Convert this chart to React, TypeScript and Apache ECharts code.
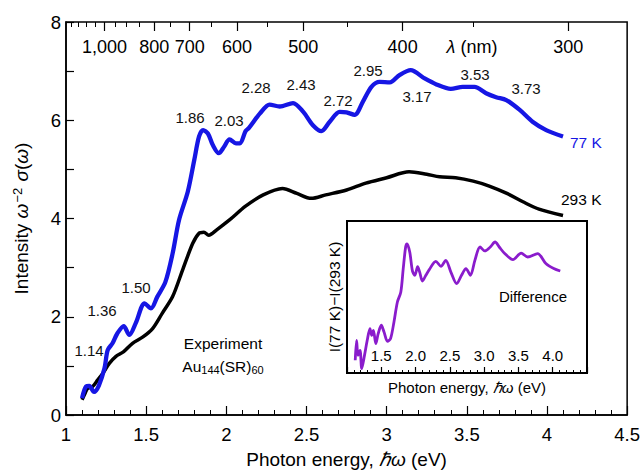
import React, { useEffect, useRef } from "react";
import * as echarts from "echarts";

// Absorption spectra of Au144(SR)60: photon energy (eV) vs. intensity
const energy77 = [
  1.1, 1.125, 1.145, 1.175, 1.205, 1.24, 1.26, 1.29, 1.32, 1.36, 1.395, 1.435,
  1.49, 1.53, 1.57, 1.62, 1.665, 1.705, 1.76, 1.8, 1.83, 1.855, 1.885, 1.915,
  1.953, 1.986, 2.02, 2.06, 2.085, 2.12, 2.14, 2.21, 2.27, 2.333, 2.416, 2.48,
  2.54, 2.593, 2.645, 2.707, 2.75, 2.8, 2.852, 2.905, 2.956, 3.02, 3.08, 3.15,
  3.237, 3.31, 3.4, 3.475, 3.548, 3.62, 3.683, 3.746, 3.83, 3.91, 3.995, 4.1,
];
const intensity77 = [
  0.34, 0.58, 0.59, 0.47, 0.6, 0.95, 1.32, 1.46, 1.66, 1.81, 1.63, 1.87,
  2.27, 2.17, 2.41, 2.71, 3.29, 3.97, 4.55, 5.19, 5.67, 5.8, 5.73, 5.5,
  5.33, 5.46, 5.61, 5.53, 5.53, 5.78, 5.84, 6.14, 6.32, 6.28, 6.35, 6.17,
  5.9, 5.78, 5.97, 6.17, 6.16, 6.11, 6.38, 6.68, 6.78, 6.77, 6.92, 7.02,
  6.85, 6.73, 6.64, 6.68, 6.68, 6.55, 6.47, 6.41, 6.21, 5.97, 5.8, 5.67,
];

const energy293 = [
  1.1, 1.12, 1.135, 1.166, 1.197, 1.23, 1.27, 1.31, 1.36, 1.415, 1.48, 1.54,
  1.6, 1.665, 1.727, 1.79, 1.83, 1.86, 1.89, 1.94, 2.02, 2.12, 2.23, 2.35,
  2.44, 2.53, 2.62, 2.75, 2.87, 3.0, 3.14, 3.25, 3.33, 3.43, 3.54, 3.64,
  3.75, 3.85, 3.95, 4.1,
];
const intensity293 = [
  0.31, 0.45, 0.54, 0.58, 0.71, 0.85, 1.05, 1.19, 1.29, 1.46, 1.59, 1.76,
  2.07, 2.41, 2.95, 3.49, 3.7, 3.72, 3.66, 3.77, 3.97, 4.25, 4.48, 4.61,
  4.51, 4.41, 4.48, 4.58, 4.72, 4.83, 4.95, 4.9, 4.85, 4.83, 4.76, 4.66,
  4.51, 4.34, 4.19, 4.06,
];

// Difference spectrum I(77 K) - I(293 K), arbitrary units
const energyDiff = [
  1.12, 1.14, 1.16, 1.19, 1.215, 1.255, 1.295, 1.335, 1.36, 1.385, 1.42, 1.455,
  1.5, 1.54, 1.59, 1.635, 1.685, 1.735, 1.785, 1.82, 1.855, 1.875, 1.915, 1.955,
  1.99, 2.03, 2.06, 2.1, 2.15, 2.2, 2.295, 2.37, 2.44, 2.515, 2.6, 2.67,
  2.735, 2.8, 2.865, 2.94, 3.01, 3.09, 3.16, 3.22, 3.3, 3.42, 3.54, 3.635,
  3.78, 3.9, 4.015, 4.11,
];
const difference = [
  0.84, 2.15, 1.16, 1.49, 0.29, 1.16, 2.15, 2.92, 2.48, 2.81, 1.93, 2.59,
  3.14, 2.7, 2.09, 2.26, 3.36, 4.67, 5.33, 6.87, 8.29, 8.5, 7.96, 6.7,
  6.43, 7.0, 6.64, 6.05, 6.43, 6.8, 7.35, 7.02, 7.41, 6.64, 5.88, 6.43,
  6.87, 6.43, 7.41, 8.29, 8.03, 8.29, 8.62, 8.29, 7.86, 7.46, 7.89, 7.63,
  7.86, 7.2, 6.87, 6.71,
];

// Wavelength scale (nm) shown along the top edge
const wavelengthLabelsNm = [1000, 800, 700, 600, 500, 400, 300];
const wavelengthMinorNm = [1200, 1150, 1100, 1050, 950, 900, 850, 750, 650, 550, 450, 350];

// Peak energies (eV) marked on the 77 K spectrum
const peakLabels = ["1.14", "1.36", "1.50", "1.86", "2.03", "2.28", "2.43", "2.72", "2.95", "3.17", "3.53", "3.73"];
const insetTickLabels = [1.5, 2.0, 2.5, 3.0, 3.5, 4.0];

const HC_EV_NM = 1239.84;
const FONT = "'Liberation Sans', Arial, Helvetica, sans-serif";
const BLUE = "#1616e4";
const PURPLE = "#8a1ccc";

// pixel anchors of the peak labels
const peakLabelPos: [number, number][] = [
  [89, 350], [102, 310], [136, 287], [190, 117], [229, 120], [256, 87],
  [301, 84], [338, 100], [368, 70], [417, 96], [475, 74], [526, 88],
];

const zip = (xs: number[], ys: number[]) => xs.map((x, i) => [x, ys[i]]);
const toEnergy = (nm: number) => HC_EV_NM / nm;

export default function App() {
  const ref = useRef<HTMLDivElement>(null);

  useEffect(() => {
    if (!ref.current) return;
    const chart = echarts.init(ref.current, undefined, { renderer: "svg" });

    const axisLine = { show: true, lineStyle: { color: "#000", width: 1.5 } };

    const peakTexts = peakLabels.map((t, i) => ({
      type: "text",
      x: peakLabelPos[i][0],
      y: peakLabelPos[i][1],
      style: {
        text: t,
        fill: "#111",
        font: `15px ${FONT}`,
        align: "center",
        verticalAlign: "middle",
      },
      z: 10,
    }));

    chart.setOption({
      animation: false,
      backgroundColor: "#fff",
      textStyle: { fontFamily: FONT, color: "#000" },
      grid: [
        {
          left: 66,
          top: 22,
          right: 15,
          bottom: 59,
          show: true,
          borderColor: "#000",
          borderWidth: 1.5,
          backgroundColor: "transparent",
        },
        {
          left: 347,
          top: 221,
          width: 240,
          height: 152,
          show: true,
          borderColor: "#000",
          borderWidth: 2,
          backgroundColor: "#fff",
          z: 3,
        },
      ],
      xAxis: [
        {
          type: "value",
          gridIndex: 0,
          position: "bottom",
          min: 1,
          max: 4.5,
          interval: 0.5,
          axisLine,
          axisTick: { show: true, inside: true, length: 9, lineStyle: { color: "#000", width: 1.2 } },
          minorTick: { show: true, splitNumber: 5, length: 5, lineStyle: { color: "#000", width: 1 } },
          splitLine: { show: false },
          axisLabel: { color: "#000", fontSize: 18.5, margin: 10, fontFamily: FONT },
          name: "Photon energy, {i|ℏω} (eV)",
          nameLocation: "middle",
          nameGap: 35,
          nameTextStyle: {
            fontSize: 19,
            color: "#000",
            fontFamily: FONT,
            rich: { i: { fontSize: 19, fontStyle: "italic", fontFamily: FONT } },
          },
        },
        {
          type: "value",
          gridIndex: 0,
          position: "top",
          min: 1,
          max: 4.5,
          axisLine: { show: false },
          axisTick: {
            show: true,
            inside: true,
            length: 9,
            customValues: wavelengthLabelsNm.map(toEnergy),
            lineStyle: { color: "#000", width: 1.2 },
          },
          splitLine: { show: false },
          axisLabel: {
            show: true,
            inside: true,
            margin: 16,
            color: "#000",
            fontSize: 18,
            fontFamily: FONT,
            customValues: wavelengthLabelsNm.map(toEnergy),
            formatter: (v: number) => Math.round(HC_EV_NM / v).toLocaleString("en-US"),
          },
        },
        {
          type: "value",
          gridIndex: 0,
          position: "top",
          min: 1,
          max: 4.5,
          axisLine: { show: false },
          axisTick: {
            show: true,
            inside: true,
            length: 5,
            customValues: wavelengthMinorNm.map(toEnergy),
            lineStyle: { color: "#000", width: 1 },
          },
          splitLine: { show: false },
          axisLabel: { show: false },
        },
        {
          type: "value",
          gridIndex: 1,
          position: "bottom",
          min: 1,
          max: 4.5,
          interval: 0.5,
          z: 8,
          axisLine: { show: true, lineStyle: { color: "#000", width: 2 } },
          axisTick: { show: true, inside: true, length: 6, lineStyle: { color: "#000", width: 1.2 } },
          minorTick: { show: true, splitNumber: 5, length: 3, lineStyle: { color: "#000", width: 1 } },
          splitLine: { show: false },
          axisLabel: {
            show: true,
            inside: true,
            margin: 10,
            color: "#000",
            fontSize: 15,
            fontFamily: FONT,
            customValues: insetTickLabels,
            formatter: (v: number) => v.toFixed(1),
          },
          name: "Photon energy, {i|ℏω} (eV)",
          nameLocation: "middle",
          nameGap: 7,
          nameTextStyle: {
            fontSize: 15,
            color: "#000",
            fontFamily: FONT,
            rich: { i: { fontSize: 15, fontStyle: "italic", fontFamily: FONT } },
          },
        },
      ],
      yAxis: [
        {
          type: "value",
          gridIndex: 0,
          min: 0,
          max: 8,
          interval: 2,
          axisLine,
          axisTick: { show: true, inside: true, length: 8, lineStyle: { color: "#000", width: 1.2 } },
          minorTick: { show: true, splitNumber: 2, length: 8, lineStyle: { color: "#000", width: 1.2 } },
          splitLine: { show: false },
          axisLabel: { color: "#000", fontSize: 18.5, margin: 5, fontFamily: FONT },
          name: "{n|Intensity }{i|ω}{sup|−2}{n| }{i|σ}{n|(}{i|ω}{n|)}",
          nameLocation: "middle",
          nameGap: 34,
          nameTextStyle: {
            fontSize: 19,
            color: "#000",
            fontFamily: FONT,
            rich: {
              n: { fontSize: 19, fontFamily: FONT },
              i: { fontSize: 19, fontStyle: "italic", fontFamily: FONT },
              sup: { fontSize: 13, fontFamily: FONT, verticalAlign: "top", padding: [0, 1, 8, 1] },
            },
          },
        },
        {
          type: "value",
          gridIndex: 1,
          min: 0,
          max: 10,
          z: 8,
          axisLine: { show: false },
          axisTick: { show: false },
          axisLabel: { show: false },
          splitLine: { show: false },
          name: "I(77 K)−I(293 K)",
          nameLocation: "middle",
          nameGap: 5,
          nameTextStyle: { fontSize: 15.5, color: "#000", fontFamily: FONT },
        },
      ],
      series: [
        {
          name: "293 K",
          type: "line",
          xAxisIndex: 0,
          yAxisIndex: 0,
          data: zip(energy293, intensity293),
          showSymbol: false,
          smooth: 0.3,
          lineStyle: { color: "#000", width: 3.5 },
          z: 4,
        },
        {
          name: "77 K",
          type: "line",
          xAxisIndex: 0,
          yAxisIndex: 0,
          data: zip(energy77, intensity77),
          showSymbol: false,
          smooth: 0.3,
          lineStyle: { color: BLUE, width: 4.3 },
          z: 5,
        },
        {
          name: "Difference",
          type: "line",
          xAxisIndex: 3,
          yAxisIndex: 1,
          data: zip(energyDiff, difference),
          showSymbol: false,
          smooth: 0.3,
          lineStyle: { color: PURPLE, width: 2.8 },
          z: 6,
        },
      ],
      graphic: [
        ...peakTexts,
        {
          type: "text",
          x: 472,
          y: 47,
          style: {
            text: "{i|λ} (nm)",
            font: `18px ${FONT}`,
            fill: "#000",
            align: "center",
            verticalAlign: "middle",
            rich: { i: { fontStyle: "italic", fontSize: 18, fontFamily: FONT } },
          },
        },
        {
          type: "text",
          x: 570,
          y: 142,
          style: { text: "77 K", font: `15.5px ${FONT}`, fill: BLUE, align: "left", verticalAlign: "middle" },
        },
        {
          type: "text",
          x: 561,
          y: 199,
          style: { text: "293 K", font: `15.5px ${FONT}`, fill: "#000", align: "left", verticalAlign: "middle" },
        },
        {
          type: "text",
          x: 223,
          y: 343,
          style: { text: "Experiment", font: `15.5px ${FONT}`, fill: "#000", align: "center", verticalAlign: "middle" },
        },
        {
          type: "text",
          x: 223,
          y: 366,
          style: {
            text: "{n|Au}{s|144}{n|(SR)}{s|60}",
            fill: "#000",
            align: "center",
            verticalAlign: "middle",
            rich: {
              n: { fontSize: 15.5, fontFamily: FONT, lineHeight: 18 },
              s: { fontSize: 11, fontFamily: FONT, lineHeight: 11, padding: [8, 0, 0, 0] },
            },
          },
        },
        {
          type: "text",
          x: 533,
          y: 296,
          z: 10,
          style: { text: "Difference", font: `15px ${FONT}`, fill: "#000", align: "center", verticalAlign: "middle" },
        },
      ],
    });

    return () => chart.dispose();
  }, []);

  return (
    <div
      ref={ref}
      style={{ position: "fixed", left: 0, top: 0, width: 643, height: 474, background: "#fff" }}
    />
  );
}
